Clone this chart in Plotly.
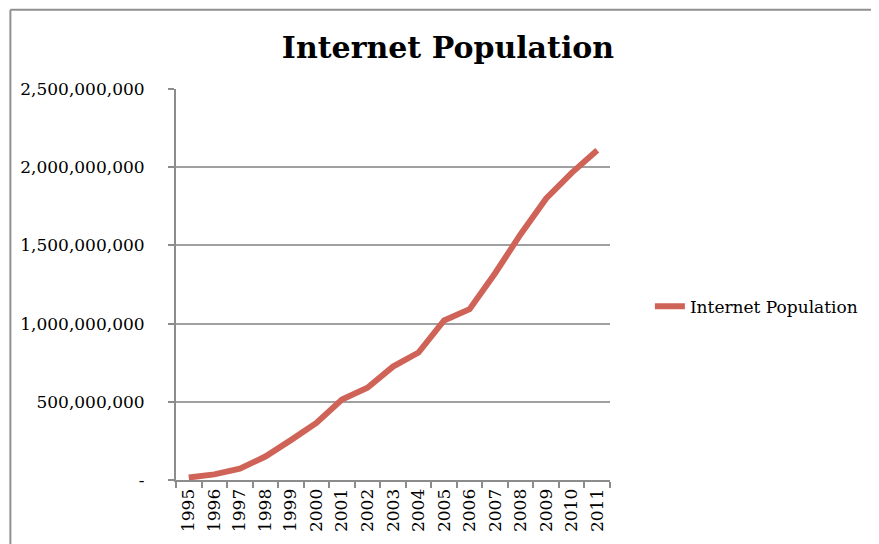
import plotly.graph_objects as go

years = ["1995", "1996", "1997", "1998", "1999", "2000", "2001", "2002", "2003",
         "2004", "2005", "2006", "2007", "2008", "2009", "2010", "2011"]
internet_population = [16e6, 36e6, 72e6, 150e6, 255e6, 365e6, 515e6, 590e6, 725e6,
                       815e6, 1020e6, 1092e6, 1322e6, 1572e6, 1800e6, 1964e6, 2108e6]
y_tick_values = [0, 500e6, 1000e6, 1500e6, 2000e6, 2500e6]
y_tick_labels = ["-", "500,000,000", "1,000,000,000", "1,500,000,000",
                 "2,000,000,000", "2,500,000,000"]
series_name = "Internet Population"
title_text = "Internet Population"

OFF = 8  # page body margin
W, H = 879 - OFF, 544 - OFF
# plot area in page pixels
L, R, T, B = 175, 610, 89, 484

def px_x(px):
    return (px - L) / (R - L)

def px_y(py):
    return (B - py) / (B - T)

fig = go.Figure()
fig.add_trace(go.Scatter(
    x=years, y=internet_population, mode="lines", name=series_name,
    line=dict(color="#cf6357", width=6),
))

serif = "DejaVu Serif"
gray = "#8c8c8c"

fig.update_layout(
    width=W, height=H,
    margin=dict(l=L - OFF, r=W - (R - OFF), t=T - OFF, b=H - (B - OFF), pad=0),
    paper_bgcolor="white", plot_bgcolor="white",
    title=dict(text="<b>" + title_text + "</b>", x=(448 - OFF) / W, xanchor="center",
               y=1 - (47 - OFF) / H, yanchor="middle",
               font=dict(family=serif, size=30, color="black")),
    showlegend=True,
    legend=dict(x=px_x(650), y=px_y(309), xanchor="left", yanchor="middle",
                font=dict(family=serif, size=17, color="black"),
                bgcolor="rgba(0,0,0,0)", itemwidth=30),
    font=dict(family=serif, size=17, color="black"),
)

fig.update_xaxes(
    type="category", range=[-0.5, len(years) - 0.5],
    tickangle=-90, tickson="boundaries", ticks="outside", ticklen=6,
    tickcolor=gray, tickwidth=1.5,
    showline=True, linecolor=gray, linewidth=2,
    showgrid=False, zeroline=False,
    tickfont=dict(family=serif, size=17, color="black"),
)
fig.update_yaxes(
    range=[0, 2.5e9], tickvals=y_tick_values, ticktext=y_tick_labels,
    ticks="outside", ticklen=6, tickcolor=gray, tickwidth=1.5,
    showline=True, linecolor=gray, linewidth=2,
    showgrid=True, gridcolor="#a0a0a0", gridwidth=1.5, zeroline=False,
    ticklabelstandoff=20,
    tickfont=dict(family=serif, size=17, color="black"),
)

# outer chart border (top and left edges visible)
fig.add_shape(type="line", xref="paper", yref="paper",
              x0=px_x(OFF + 1), x1=px_x(900), y0=px_y(OFF + 1), y1=px_y(OFF + 1),
              line=dict(color="#909090", width=2))
fig.add_shape(type="line", xref="paper", yref="paper",
              x0=px_x(OFF + 1), x1=px_x(OFF + 1), y0=px_y(OFF + 1), y1=px_y(600),
              line=dict(color="#909090", width=2))

fig.write_html("out.html")
